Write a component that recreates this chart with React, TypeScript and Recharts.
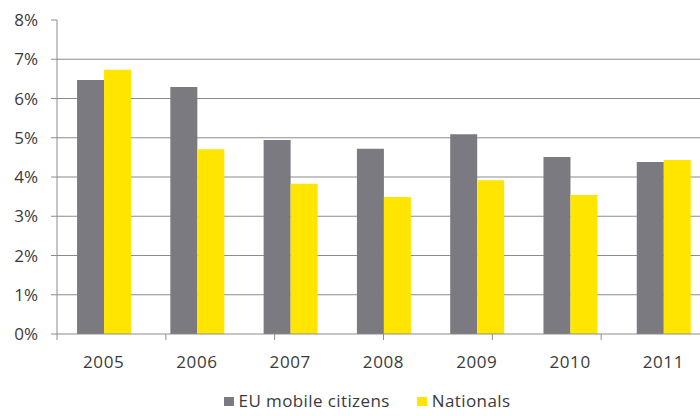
import React from 'react';
import {
  BarChart,
  Bar,
  XAxis,
  YAxis,
  CartesianGrid,
  Legend
} from 'recharts';

const years = ['2005', '2006', '2007', '2008', '2009', '2010', '2011'];
const euMobile = [6.47, 6.29, 4.94, 4.72, 5.09, 4.51, 4.38];
const nationals = [6.73, 4.71, 3.83, 3.49, 3.92, 3.54, 4.43];
const yTicks = [0, 1, 2, 3, 4, 5, 6, 7, 8];
const gridValues = [1, 2, 3, 4, 5, 6, 7];
const boundaryTicks = [0, 1, 2, 3, 4, 5, 6, 7];

const data = years.map((year, i) => ({
  year,
  eu: euMobile[i],
  nat: nationals[i]
}));

const GRAY = '#7a7a80';
const YELLOW = '#ffe500';
const AXIS = '#8c8c8c';
const TEXT = '#3a3a3a';
const FONT = '"Open Sans", Lato, sans-serif';

const legendItems = [
  { label: 'EU mobile citizens', color: GRAY },
  { label: 'Nationals', color: YELLOW }
];

const LegendContent = () => (
  <div
    style={{
      display: 'flex',
      justifyContent: 'center',
      alignItems: 'center',
      height: 20,
      paddingLeft: 24,
      fontFamily: FONT,
      fontSize: 17,
      letterSpacing: 0.4,
      color: TEXT,
      lineHeight: '20px'
    }}
  >
    {legendItems.map((item, i) => (
      <div
        key={item.label}
        style={{ display: 'flex', alignItems: 'center', marginLeft: i === 0 ? 0 : 27 }}
      >
        <span
          style={{
            display: 'inline-block',
            width: 10,
            height: 9,
            background: item.color,
            marginRight: 5
          }}
        />
        <span>{item.label}</span>
      </div>
    ))}
  </div>
);

const App: React.FC = () => {
  return (
    <div
      style={{
        position: 'absolute',
        left: 0,
        top: 0,
        width: 700,
        height: 416,
        overflow: 'hidden',
        background: '#fff',
        fontFamily: FONT
      }}
    >
      <BarChart
        width={720}
        height={416}
        data={data}
        margin={{ top: 20, right: 10, left: 0, bottom: 5 }}
        barGap={0}
        barCategoryGap="21.5%"
      >
        <CartesianGrid
          vertical={false}
          horizontalValues={gridValues}
          stroke={AXIS}
          strokeWidth={1.2}
        />
        <XAxis
          xAxisId="a"
          type="number"
          domain={[0, 7]}
          ticks={boundaryTicks}
          stroke={AXIS}
          tickLine={{ stroke: AXIS }}
          tickSize={6}
          tickFormatter={() => ''}
          height={1}
        />
        <XAxis
          xAxisId="b"
          dataKey="year"
          axisLine={false}
          tickLine={false}
          tickSize={0}
          tickMargin={21}
          height={56}
          tick={{ fill: TEXT, fontSize: 17, fontFamily: FONT, letterSpacing: 0.6 }}
        />
        <YAxis
          width={57}
          domain={[0, 8]}
          ticks={yTicks}
          tickFormatter={(v: number) => `${v}%`}
          stroke={AXIS}
          tickSize={6}
          tickMargin={13}
          tick={{ fill: TEXT, fontSize: 17, fontFamily: FONT }}
        />
        <Legend verticalAlign="bottom" content={<LegendContent />} />
        <Bar xAxisId="b" dataKey="eu" name="EU mobile citizens" fill={GRAY} isAnimationActive={false} />
        <Bar xAxisId="b" dataKey="nat" name="Nationals" fill={YELLOW} isAnimationActive={false} />
      </BarChart>
    </div>
  );
};

export default App;
